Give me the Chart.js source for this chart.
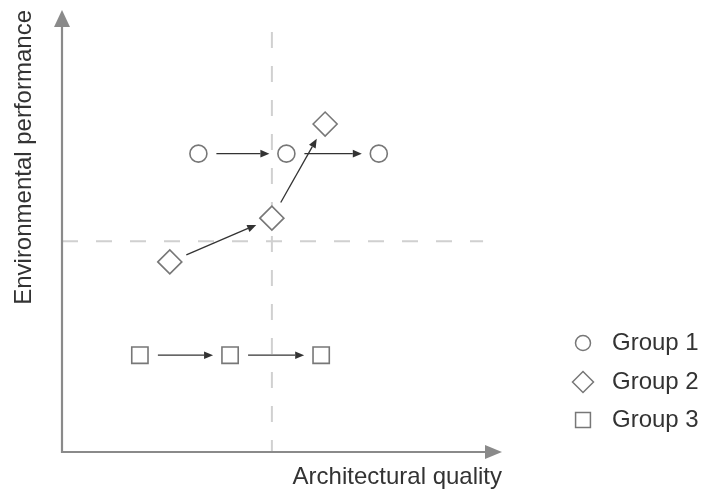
<!doctype html>
<html lang="en">
<head>
<meta charset="utf-8">
<title>Architectural quality vs environmental performance</title>
<script src="https://cdn.jsdelivr.net/npm/chart.js@4.4.1/dist/chart.umd.min.js"></script>
<style>
  html, body { margin: 0; padding: 0; background: #fff; }
  #wrap { width: 704px; height: 492px; }
</style>
</head>
<body>
<div id="wrap"><canvas id="chart" width="704" height="492"></canvas></div>
<script>
// values (axis runs 0..10, no ticks shown)
var groupLabels = ["Group 1", "Group 2", "Group 3"];
var group1X = [3.1, 5.1, 7.2];
var group1Y = [6.75, 6.75, 6.75];
var group2X = [2.45, 4.77, 5.98];
var group2Y = [4.3, 5.29, 7.42];
var group3X = [1.77, 3.82, 5.89];
var group3Y = [2.19, 2.19, 2.19];
// dashed reference lines: x = 4.77 and y = 4.77
var refX = 4.77;
var refY = 4.77;
var refXTop = 9.5;
var refYRight = 9.57;

var FONT = "'Liberation Sans', Arial, sans-serif";
var MARK = "#777";

function toPoints(xs, ys) {
    var pts = [];
    for (var i = 0; i < xs.length; i++) {
        pts.push({ x: xs[i], y: ys[i] });
    }
    return pts;
}

var styles = [
    { pointStyle: "circle", radius: 8.5, legendRadius: 7.5 },
    { pointStyle: "rectRot", radius: 12, legendRadius: 10.5 },
    { pointStyle: "rect", radius: 11.5, legendRadius: 10.5 }
];
var series = [[group1X, group1Y], [group2X, group2Y], [group3X, group3Y]];

var datasets = [];
for (var g = 0; g < series.length; g++) {
    datasets.push({
        label: groupLabels[g],
        data: toPoints(series[g][0], series[g][1]),
        pointStyle: styles[g].pointStyle,
        pointRadius: styles[g].radius,
        pointHoverRadius: styles[g].radius,
        pointBackgroundColor: "#fff",
        pointBorderColor: MARK,
        pointBorderWidth: 1.6,
        showLine: false
    });
}

function arrow(ctx, x1, y1, x2, y2, gapA, gapB) {
    var dx = x2 - x1, dy = y2 - y1;
    var len = Math.sqrt(dx * dx + dy * dy);
    var ux = dx / len, uy = dy / len;
    var sx = x1 + ux * gapA, sy = y1 + uy * gapA;
    var ex = x2 - ux * gapB, ey = y2 - uy * gapB;
    var hl = 9, hw = 3.8;
    ctx.beginPath();
    ctx.moveTo(sx, sy);
    ctx.lineTo(ex - ux * hl, ey - uy * hl);
    ctx.stroke();
    ctx.beginPath();
    ctx.moveTo(ex, ey);
    ctx.lineTo(ex - ux * hl - uy * hw, ey - uy * hl + ux * hw);
    ctx.lineTo(ex - ux * hl + uy * hw, ey - uy * hl - ux * hw);
    ctx.closePath();
    ctx.fill();
}

// axes, dashed guides and arrows between the markers
var backdrop = {
    id: "backdrop",
    beforeDatasetsDraw: function(chart) {
        var ctx = chart.ctx;
        var a = chart.chartArea;
        var xs = chart.scales.x, ys = chart.scales.y;
        ctx.save();

        // dashed guides
        ctx.strokeStyle = "#d0d0d0";
        ctx.lineWidth = 2;
        ctx.setLineDash([16, 18]);
        ctx.beginPath();
        ctx.moveTo(xs.getPixelForValue(refX), ys.getPixelForValue(refXTop));
        ctx.lineTo(xs.getPixelForValue(refX), a.bottom);
        ctx.stroke();
        ctx.beginPath();
        ctx.moveTo(a.left, ys.getPixelForValue(refY));
        ctx.lineTo(xs.getPixelForValue(refYRight), ys.getPixelForValue(refY));
        ctx.stroke();
        ctx.setLineDash([]);

        // axes with arrow heads
        ctx.strokeStyle = "#8a8a8a";
        ctx.fillStyle = "#8a8a8a";
        ctx.lineWidth = 2.2;
        ctx.beginPath();
        ctx.moveTo(a.left, a.top + 14);
        ctx.lineTo(a.left, a.bottom);
        ctx.lineTo(a.right - 14, a.bottom);
        ctx.stroke();
        ctx.beginPath();
        ctx.moveTo(a.left, a.top);
        ctx.lineTo(a.left - 8, a.top + 17);
        ctx.lineTo(a.left + 8, a.top + 17);
        ctx.closePath();
        ctx.fill();
        ctx.beginPath();
        ctx.moveTo(a.right, a.bottom);
        ctx.lineTo(a.right - 17, a.bottom - 7);
        ctx.lineTo(a.right - 17, a.bottom + 7);
        ctx.closePath();
        ctx.fill();

        // arrows between consecutive points of each group
        ctx.strokeStyle = "#333";
        ctx.fillStyle = "#333";
        ctx.lineWidth = 1.3;
        for (var g = 0; g < series.length; g++) {
            var px = series[g][0], py = series[g][1];
            for (var i = 0; i < px.length - 1; i++) {
                arrow(ctx,
                    xs.getPixelForValue(px[i]), ys.getPixelForValue(py[i]),
                    xs.getPixelForValue(px[i + 1]), ys.getPixelForValue(py[i + 1]),
                    18, 17);
            }
        }
        ctx.restore();
    },
    afterDraw: function(chart) {
        // legend on the right, lower half
        var ctx = chart.ctx;
        var rowsY = [343, 382, 420];
        ctx.save();
        for (var g = 0; g < chart.data.datasets.length; g++) {
            var ds = chart.data.datasets[g];
            ctx.strokeStyle = MARK;
            ctx.fillStyle = "#fff";
            ctx.lineWidth = 1.5;
            Chart.helpers.drawPoint(ctx, {
                pointStyle: ds.pointStyle,
                radius: styles[g].legendRadius,
                borderWidth: 1.5
            }, 583, rowsY[g]);
            ctx.fillStyle = "#333";
            ctx.font = "24px " + FONT;
            ctx.textBaseline = "middle";
            ctx.textAlign = "left";
            ctx.fillText(ds.label, 612, rowsY[g]);
        }
        ctx.restore();
    }
};

new Chart(document.getElementById("chart"), {
    type: "scatter",
    data: { datasets: datasets },
    plugins: [backdrop],
    options: {
        responsive: false,
        animation: false,
        events: [],
        layout: { autoPadding: false, padding: { left: 0, right: 202, top: 10, bottom: 0 } },
        plugins: {
            legend: { display: false },
            tooltip: { enabled: false }
        },
        scales: {
            x: {
                type: "linear",
                min: 0,
                max: 10,
                grid: { display: false, drawTicks: false },
                border: { display: false },
                ticks: { display: false },
                title: {
                    display: true,
                    text: "Architectural quality",
                    align: "end",
                    color: "#333",
                    font: { family: FONT, size: 24 },
                    padding: { top: 10.6, bottom: 0.6 }
                }
            },
            y: {
                type: "linear",
                min: 0,
                max: 10,
                grid: { display: false, drawTicks: false },
                border: { display: false },
                ticks: { display: false },
                title: {
                    display: true,
                    text: "Environmental performance",
                    align: "end",
                    color: "#333",
                    font: { family: FONT, size: 24 },
                    padding: { top: 9.6, bottom: 23.6 }
                }
            }
        }
    }
});
</script>
</body>
</html>
